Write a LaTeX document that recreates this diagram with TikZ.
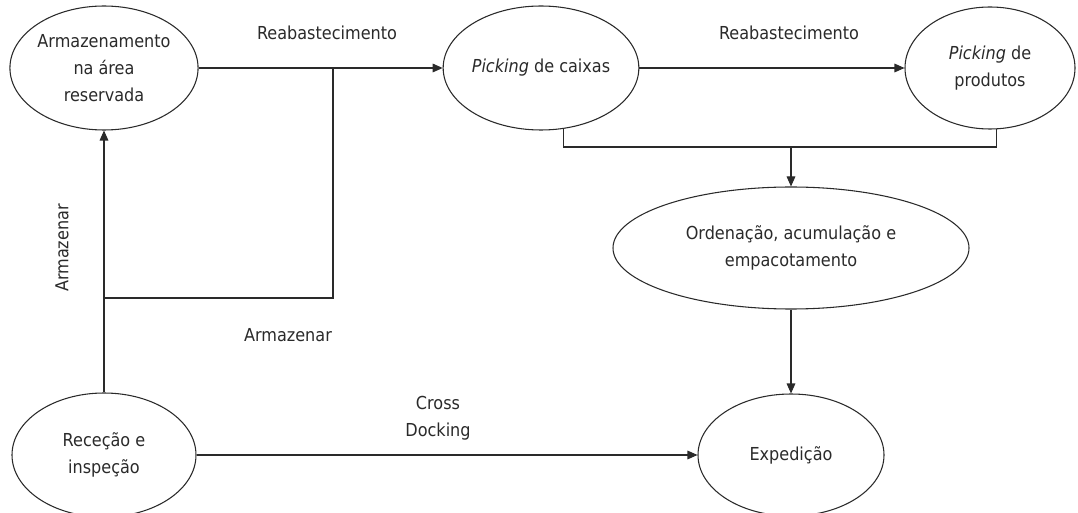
\documentclass[tikz,border=0pt]{standalone}
\usepackage{fontspec}
\setmainfont{DejaVu Sans Condensed}
\usetikzlibrary{shapes.geometric,arrows.meta}
\definecolor{ink}{HTML}{2A2A2A}
\begin{document}
\begin{tikzpicture}[x=0.75pt,y=-0.75pt,
  every node/.style={text=ink,font=\fontsize{13.4}{20}\selectfont},
  proc/.style={ellipse,draw=ink,line width=0.8pt,inner sep=0pt,align=center},
  lbl/.style={inner sep=0pt,align=center},
  link/.style={draw=ink,line width=0.8pt},
  arr/.style={link,-{Triangle[length=7.5pt,width=6.5pt]}}]
\useasboundingbox (0,0) rectangle (1078,513);
% process ellipses
\node[proc,minimum width=138pt,minimum height=93pt] (arm) at (104,68)
  {Armazenamento\\na área\\reservada};
\node[proc,minimum width=112.5pt,minimum height=93pt] (caixas) at (541,68)
  {\textit{Picking} de caixas};
\node[proc,minimum width=127.5pt,minimum height=91.5pt] (prod) at (990,68)
  {\textit{Picking} de\\produtos};
\node[proc,minimum width=267pt,minimum height=91.5pt] (ord) at (791,248)
  {Ordenação, acumulação e\\empacotamento};
\node[proc,minimum width=139.5pt,minimum height=91.5pt] (exp) at (791,455)
  {Expedição};
\node[proc,minimum width=138pt,minimum height=93pt] (rec) at (104,455)
  {Receção e\\inspeção};
% junction points of the routed lines
\coordinate (s1) at (104,298);
\coordinate (s2) at (333,298);
\coordinate (s3) at (333,68);
\coordinate (mg) at (791,147);
% connectors
\draw[arr] (arm) -- (caixas);
\draw[arr] (caixas) -- (prod);
\draw[arr] (rec) -- (arm);
\draw[link] (s1) -- (s2) -- (s3);
\draw[link] (caixas.-70.6) |- (mg) -| (prod.-84.4);
\draw[arr] (mg) -- (ord);
\draw[arr] (ord) -- (exp);
\draw[arr] (rec) -- (exp);
% labels
\node[lbl] (l1) at (327,33) {Reabastecimento};
\node[lbl] (l2) at (789,33) {Reabastecimento};
\node[lbl,rotate=90] (l3) at (62,248) {Armazenar};
\node[lbl] (l4) at (288,335) {Armazenar};
\node[lbl] (l5) at (438,418) {Cross\\Docking};
\end{tikzpicture}
\end{document}
